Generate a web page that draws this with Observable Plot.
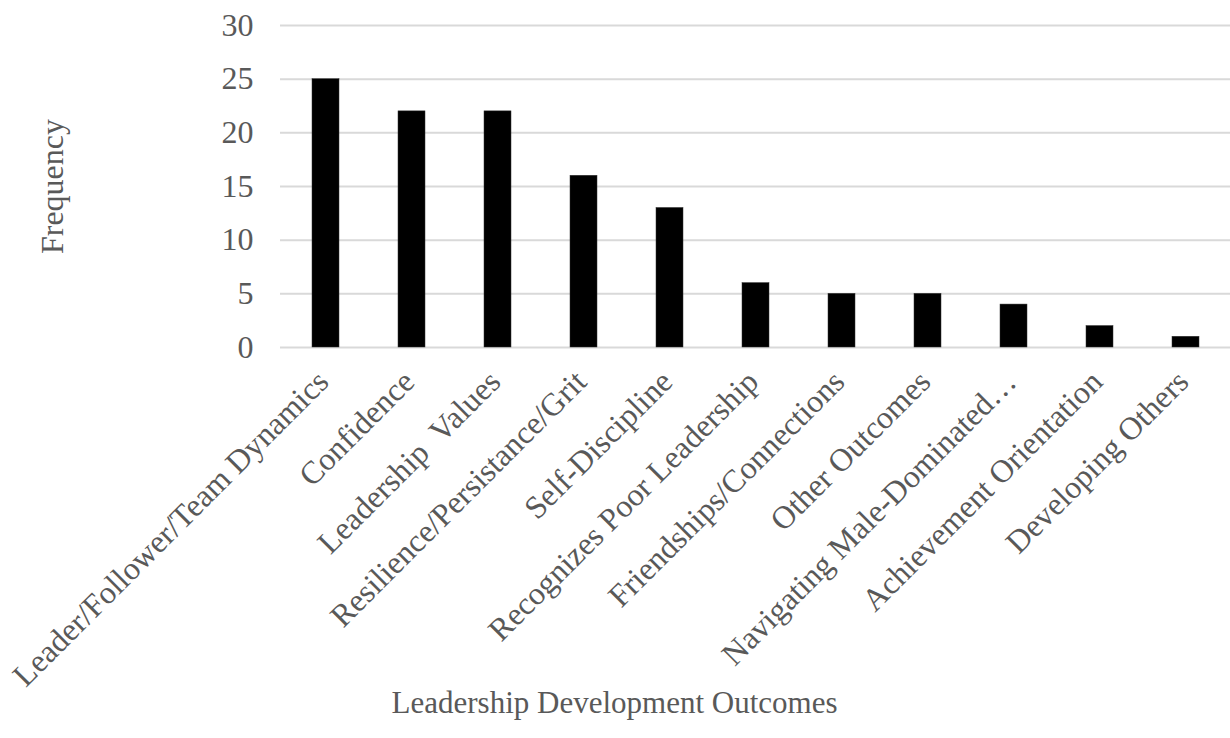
<!DOCTYPE html>
<html>
<head>
<meta charset="utf-8">
<script src="https://cdn.jsdelivr.net/npm/d3@7"></script>
<script src="https://cdn.jsdelivr.net/npm/@observablehq/plot@0.6"></script>
<style>
  html, body { margin: 0; padding: 0; background: #fff; }
  #chart svg { display: block; }
</style>
</head>
<body>
<div id="chart"></div>
<script>
// Leadership development outcomes and how often each was reported
const outcomes = [
  "Leader/Follower/Team Dynamics",
  "Confidence",
  "Leadership  Values",
  "Resilience/Persistance/Grit",
  "Self-Discipline",
  "Recognizes Poor Leadership",
  "Friendships/Connections",
  "Other Outcomes",
  "Navigating Male-Dominated…",
  "Achievement Orientation",
  "Developing Others"
];
const frequency = [25, 22, 22, 16, 13, 6, 5, 5, 4, 2, 1];
const yTicks = [0, 5, 10, 15, 20, 25, 30];

const data = outcomes.map((name, i) => ({name, value: frequency[i]}));

const font = "'Liberation Serif', 'Times New Roman', serif";
const grey = "#595959";

const chart = Plot.plot({
  width: 1230,
  height: 738,
  marginLeft: 280,
  marginRight: 0,
  marginTop: 25,
  marginBottom: 391,
  style: {fontFamily: font, fontSize: "31px", color: grey, background: "#fff"},
  x: {domain: outcomes, paddingInner: 0.69, paddingOuter: 0.345},
  y: {domain: [0, 30]},
  marks: [
    Plot.ruleY(yTicks, {stroke: "#d9d9d9", strokeWidth: 2}),
    Plot.barY(data, {x: "name", y: "value", fill: "#000", stroke: "#333", strokeWidth: 0.5}),
    Plot.axisY({
      ticks: yTicks,
      tickSize: 0,
      tickPadding: 27,
      fontSize: 32,
      label: "Frequency",
      labelAnchor: "center",
      labelArrow: "none",
      labelOffset: 240
    }),
    Plot.axisX({
      tickSize: 0,
      tickRotate: -45,
      tickPadding: 29,
      dx: -3,
      fontSize: 32,
      label: null
    }),
    Plot.text(["Leadership Development Outcomes"], {
      frameAnchor: "bottom",
      dx: -141,
      dy: 365,
      fontSize: 31,
      fill: grey
    })
  ]
});

document.getElementById("chart").appendChild(chart);
</script>
</body>
</html>
